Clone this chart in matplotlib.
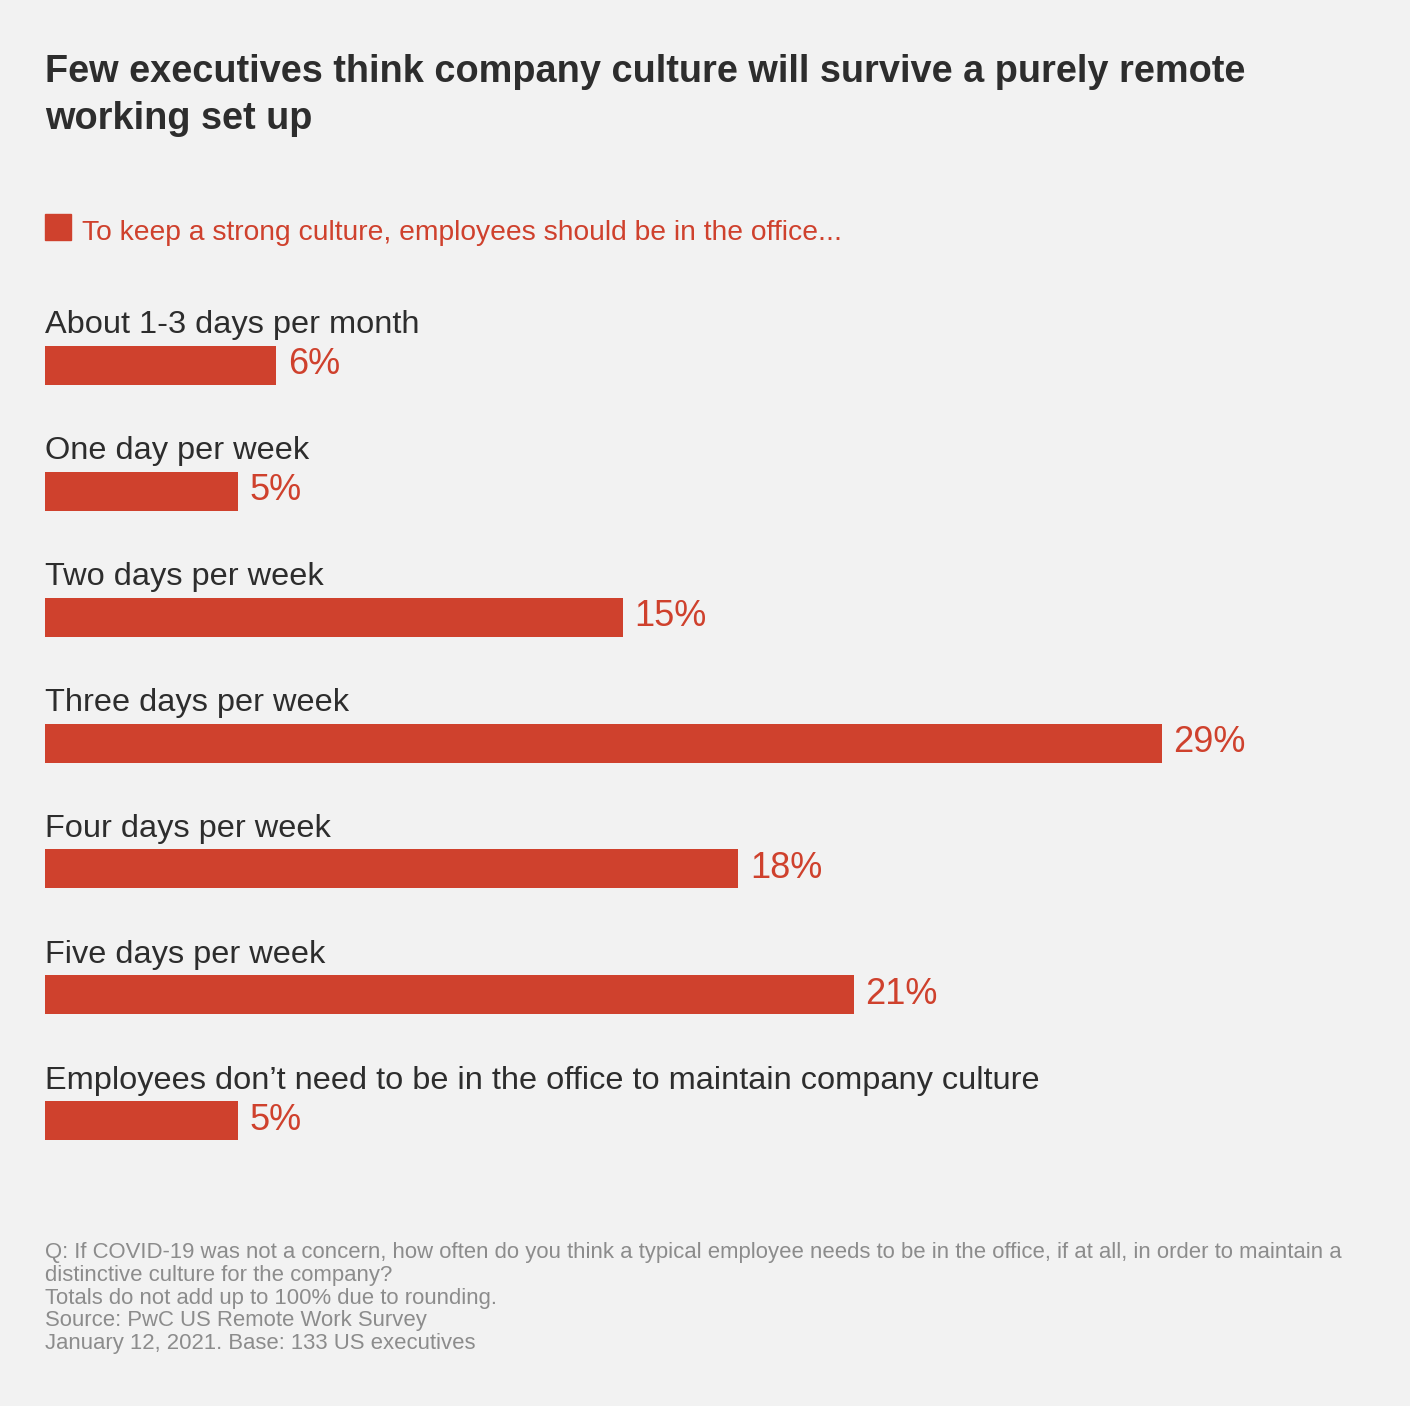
import matplotlib.pyplot as plt

plt.rcParams['font.family'] = ['Liberation Sans', 'DejaVu Sans']

# data
categories = [
    "About 1-3 days per month",
    "One day per week",
    "Two days per week",
    "Three days per week",
    "Four days per week",
    "Five days per week",
    "Employees don\u2019t need to be in the office to maintain company culture",
]
values = [6, 5, 15, 29, 18, 21, 5]

title = "Few executives think company culture will survive a purely remote\nworking set up"
legend_label = "To keep a strong culture, employees should be in the office..."
notes = [
    "Q: If COVID-19 was not a concern, how often do you think a typical employee needs to be in the office, if at all, in order to maintain a",
    "distinctive culture for the company?",
    "Totals do not add up to 100% due to rounding.",
    "Source: PwC US Remote Work Survey",
    "January 12, 2021. Base: 133 US executives",
]

BG = '#f2f2f2'
RED = '#cf412d'
DARK = '#2d2d2d'
GREY = '#8c8c8c'

W, H = 1410, 1406
fig = plt.figure(figsize=(W / 100, H / 100), dpi=100, facecolor=BG)


def fx(px):
    return px / W


def fy(py):
    return 1 - py / H


# bar area: 1% = 38.5 px, rows every 126 px, first bar centre at y=365
px_per_pct = 38.5
row = 126
top, bottom = 280, 1170
ax = fig.add_axes([fx(45), fy(bottom), fx(W - 45), (bottom - top) / H])
ax.set_facecolor(BG)
ax.set_xlim(0, (W - 45) / px_per_pct)
ax.set_ylim((bottom - 365) / row, (top - 365) / row)
ax.axis('off')

ypos = list(range(len(categories)))
ax.barh(ypos, values, height=39 / row, color=RED, align='center')

for y, cat, v in zip(ypos, categories, values):
    ax.text(0, y - 32 / row, cat, fontsize=23.4, color=DARK, va='baseline', ha='left')
    ax.text(v + 12 / px_per_pct, y, f"{v}%", fontsize=26, color=RED, va='center', ha='left')

# title
lines = title.split('\n')
fig.text(fx(45), fy(82), lines[0], fontsize=27.3, fontweight='bold', color=DARK, va='baseline')
fig.text(fx(45), fy(129), lines[1], fontsize=27.3, fontweight='bold', color=DARK, va='baseline')

# legend
fig.patches.append(plt.Rectangle((fx(45), fy(240)), fx(26), 26 / H, transform=fig.transFigure,
                                 color=RED, figure=fig))
fig.text(fx(82), fy(240), legend_label, fontsize=20.3, color=RED, va='baseline')

# footnotes
for i, line in enumerate(notes):
    fig.text(fx(45), fy(1258 + 22.8 * i), line, fontsize=15.9, color=GREY, va='baseline')

fig.savefig('out.png', dpi=100, facecolor=BG)
